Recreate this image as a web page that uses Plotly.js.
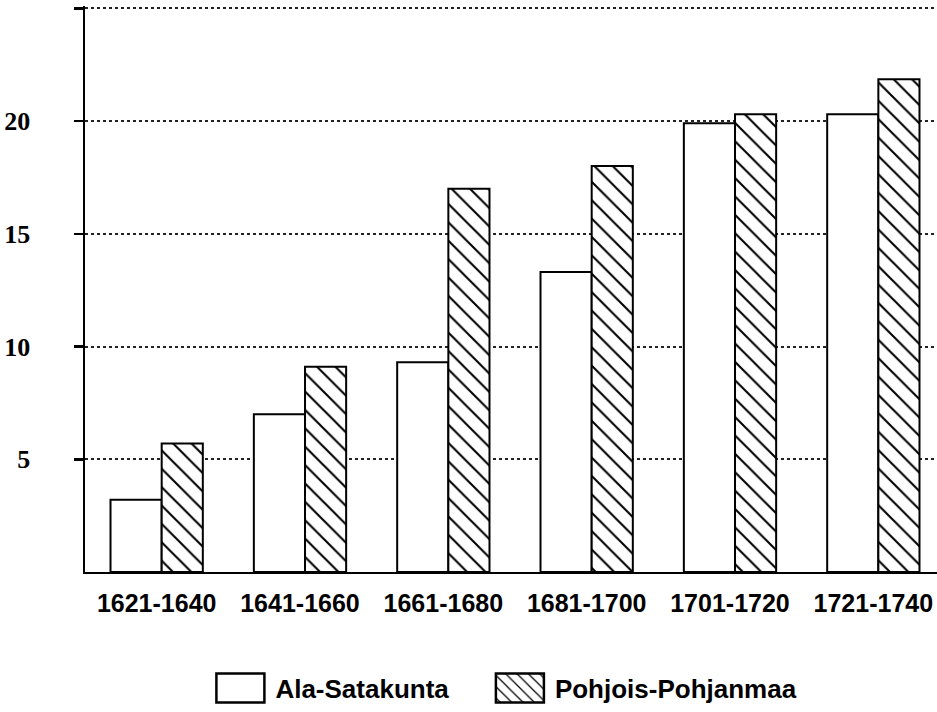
<!DOCTYPE html>
<html><head><meta charset="utf-8">
<script src="https://cdn.plot.ly/plotly-3.0.1.min.js"></script>
<style>html,body{margin:0;padding:0;overflow:hidden;background:#fff}</style>
</head><body><div id="chart"></div>
<script>
const categories = ["1621-1640","1641-1660","1661-1680","1681-1700","1701-1720","1721-1740"];
const alaSatakunta = [3.2, 7.0, 9.3, 13.3, 19.9, 20.3];
const pohjoisPohjanmaa = [5.7, 9.1, 17.0, 18.0, 20.3, 21.85];
const yTickVals = [5, 10, 15, 20, 25];
const yTickText = ["5", "10", "15", "20", ""];

const traces = [
  {type:'bar', name:'Ala-Satakunta', x:categories, y:alaSatakunta,
   offset:-0.322, width:0.357, legend:'legend',
   marker:{color:'#fff', line:{color:'#000', width:2}}},
  {type:'bar', name:'Pohjois-Pohjanmaa', x:categories, y:pohjoisPohjanmaa,
   offset:0.035, width:0.287, legend:'legend2',
   marker:{color:'#fff', line:{color:'#000', width:2},
     pattern:{shape:'\\', fgcolor:'#000', bgcolor:'#fff', size:13, solidity:0.16}}}
];
const legFont = {family:'Liberation Sans, Arial, sans-serif', size:26, color:'#000', weight:700};
const layout = {
  width:945, height:712,
  margin:{l:85, r:0, t:6, b:137},
  paper_bgcolor:'#fff', plot_bgcolor:'#fff',
  barmode:'overlay',
  showlegend:true,
  legend:{orientation:'h', x:0.14, xanchor:'left', y:-0.205, yanchor:'middle',
    font:legFont, itemwidth:60},
  legend2:{orientation:'h', x:0.465, xanchor:'left', y:-0.205, yanchor:'middle',
    font:legFont, itemwidth:60},
  xaxis:{type:'category', range:[-0.5,5.5], showline:true, linecolor:'#000', linewidth:2,
    ticks:'', showgrid:false, ticklabelstandoff:8,
    tickfont:{family:'Liberation Sans, Arial, sans-serif', size:25, color:'#000', weight:700}},
  yaxis:{range:[0,25.1], tickvals:yTickVals, ticktext:yTickText,
    showline:true, linecolor:'#000', linewidth:2.5, ticks:'outside', ticklen:9, tickwidth:2.5, tickcolor:'#000',
    showgrid:true, gridcolor:'#222', gridwidth:2, griddash:'dot', zeroline:false,
    ticklabelstandoff:38,
    tickfont:{family:'Liberation Serif, Times New Roman, serif', size:26, color:'#000', weight:700}}
};
const gd = document.getElementById('chart');
function bigSymbols(){
  gd.querySelectorAll('.legendpoints path').forEach(p=>{
    p.setAttribute('d','M24,14.5H-24V-14.5H24Z');
    p.style.strokeWidth = '2.5px';
  });
}
Plotly.newPlot(gd, traces, layout, {displayModeBar:false, staticPlot:true}).then(()=>{
  bigSymbols();
  gd.on('plotly_afterplot', bigSymbols);
  setTimeout(bigSymbols, 0);
});
</script></body></html>
